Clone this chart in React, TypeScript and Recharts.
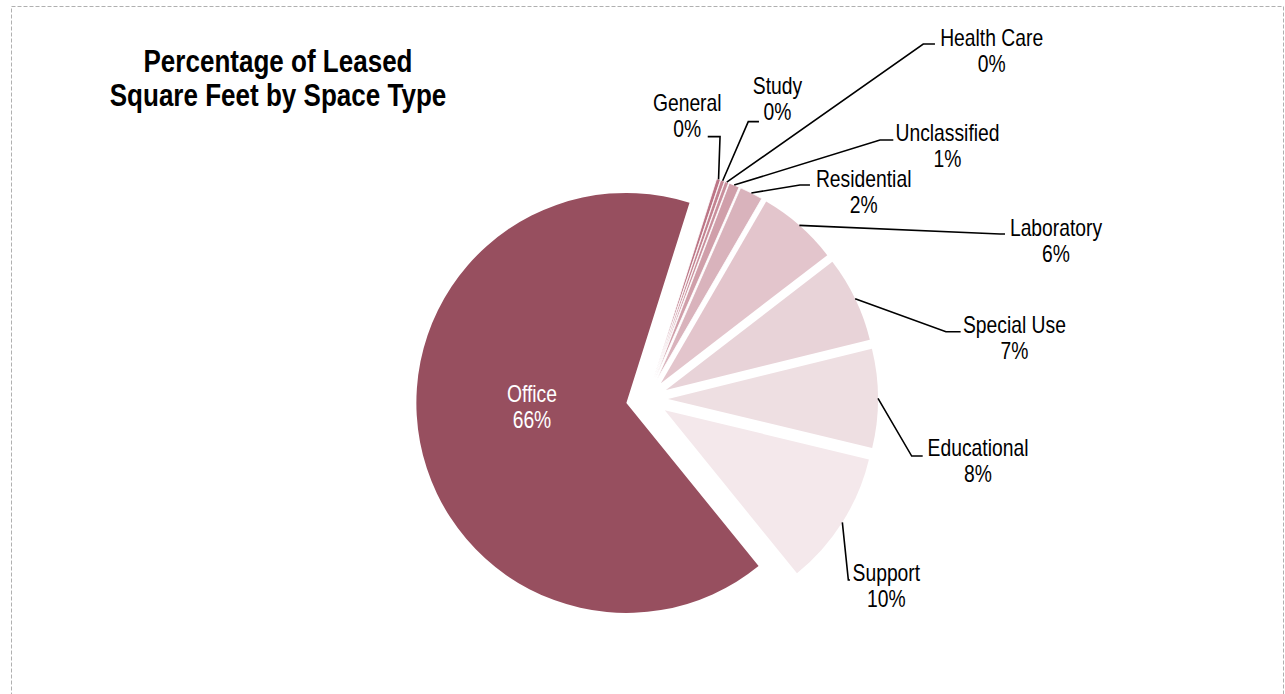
import React from 'react';
import { PieChart, Pie, Cell } from 'recharts';

// ---- data ----
const categories = [
  'General',
  'Study',
  'Health Care',
  'Unclassified',
  'Residential',
  'Laboratory',
  'Special Use',
  'Educational',
  'Support',
  'Office',
];
const shares = [0.3, 0.3, 0.3, 0.8, 1.8, 6.2, 6.6, 7.6, 10.4, 65.7];
const titleLines = ['Percentage of Leased', 'Square Feet by Space Type'];

// ---- styles ----
const colors = [
  '#BC7586',
  '#C38391',
  '#C98F9C',
  '#D09FAA',
  '#D9B3BC',
  '#E3C5CC',
  '#E8D3D8',
  '#EEDFE2',
  '#F4E8EB',
  '#974F5F',
];

const FONT = "'Liberation Sans', Arial, sans-serif";
const NARROW = 0.84;
const LABEL_SIZE = 23;
const LINE_GAP = 26;
const START = 72.5;
const END = START - 360;
const R = 210;
const EXPLODE = 21;
const RAD = Math.PI / 180;

// label placement offsets (relative to each slice's outer mid point)
const LABEL_LAYOUT: { text: [number, number]; line?: [number, number][]; color?: string }[] = [
  { text: [-31.3, -76.9], line: [[1.5, -42.7], [-10.8, -42.7]] },
  { text: [54.8, -94.6], line: [[25.6, -59.1], [36.3, -59.1]] },
  { text: [264.9, -144.7], line: [[196.5, -138.2], [208.2, -138.2]] },
  { text: [213.3, -51.8], line: [[145.8, -45.1], [159.1, -45.1]] },
  { text: [112.3, -13.9], line: [[48.6, -7.9], [58.6, -7.9]] },
  { text: [256.7, 2.1], line: [[200.7, 8.6], [205.7, 8.6]] },
  { text: [159.3, 26.2], line: [[90.8, 32.9], [105.5, 32.9]] },
  { text: [100, 49.6], line: [[33.7, 57.6], [44.7, 57.6]] },
  { text: [44, 51], line: [[6, 57.7], [7.7, 57.7]] },
  { text: [111.9, -48.1], color: '#FFFFFF' },
];

const data = categories.map((name, i) => ({ name, value: shares[i] }));
const total = shares.reduce((a, b) => a + b, 0);
const midAngles = (() => {
  let acc = 0;
  return shares.map((v) => {
    const m = START - ((acc + v / 2) / total) * 360;
    acc += v;
    return m;
  });
})();

const NarrowText = ({ x, y, children, fill, size, bold }: any) => (
  <text
    transform={`translate(${x},${y}) scale(${NARROW},1)`}
    x={0}
    y={0}
    textAnchor="middle"
    dominantBaseline="central"
    fontFamily={FONT}
    fontSize={size}
    fontWeight={bold ? 'bold' : 'normal'}
    fill={fill}
  >
    {children}
  </text>
);

const renderLabel = (props: any) => {
  const { cx, cy, midAngle, outerRadius, index, name, percent } = props;
  const lay = LABEL_LAYOUT[index];
  if (!lay) return null;
  const rr = outerRadius + EXPLODE;
  const ox = cx + rr * Math.cos(-midAngle * RAD);
  const oy = cy + rr * Math.sin(-midAngle * RAD);
  const tx = ox + lay.text[0];
  const ty = oy + lay.text[1];
  const fill = lay.color || '#000000';
  const pts = lay.line
    ? [[ox, oy], ...lay.line.map(([dx, dy]) => [ox + dx, oy + dy])]
    : null;
  return (
    <g key={`lbl-${index}`}>
      {pts && (
        <polyline
          points={pts.map((p) => p.join(',')).join(' ')}
          fill="none"
          stroke="#000000"
          strokeWidth={1.6}
        />
      )}
      <NarrowText x={tx} y={ty} fill={fill} size={LABEL_SIZE}>
        {name}
      </NarrowText>
      <NarrowText x={tx} y={ty + LINE_GAP} fill={fill} size={LABEL_SIZE}>
        {`${Math.round(percent * 100)}%`}
      </NarrowText>
    </g>
  );
};

export default function App() {
  return (
    <div style={{ position: 'absolute', left: 0, top: 0, width: 1285, height: 694, background: '#fff', overflow: 'hidden' }}>
      <svg width={1285} height={694} style={{ position: 'absolute', left: 0, top: 0 }}>
        <rect x={11.5} y={6.5} width={1272} height={720} fill="#fff" stroke="#B0B0B0" strokeWidth={1} strokeDasharray="4 2" />
        {titleLines.map((t, i) => (
          <NarrowText key={t} x={278} y={61.5 + i * 34} fill="#000" size={31} bold>
            {t}
          </NarrowText>
        ))}
      </svg>
      <div style={{ position: 'absolute', left: 0, top: 0 }}>
        <PieChart width={1285} height={694} margin={{ top: 0, right: 0, bottom: 0, left: 0 }}>
          <Pie
            data={data}
            dataKey="value"
            nameKey="name"
            cx={647}
            cy={399}
            outerRadius={R}
            startAngle={START}
            endAngle={END}
            stroke="none"
            isAnimationActive={false}
            label={renderLabel}
            labelLine={false}
          >
            {data.map((d, i) => {
              const dx = EXPLODE * Math.cos(-midAngles[i] * RAD);
              const dy = EXPLODE * Math.sin(-midAngles[i] * RAD);
              return (
                <Cell
                  key={d.name}
                  fill={colors[i]}
                  stroke={i < 5 ? '#FFFFFF' : 'none'}
                  strokeWidth={i < 5 ? 0.8 : 0}
                  transform={`translate(${dx.toFixed(2)},${dy.toFixed(2)})`}
                />
              );
            })}
          </Pie>
        </PieChart>
      </div>
    </div>
  );
}
